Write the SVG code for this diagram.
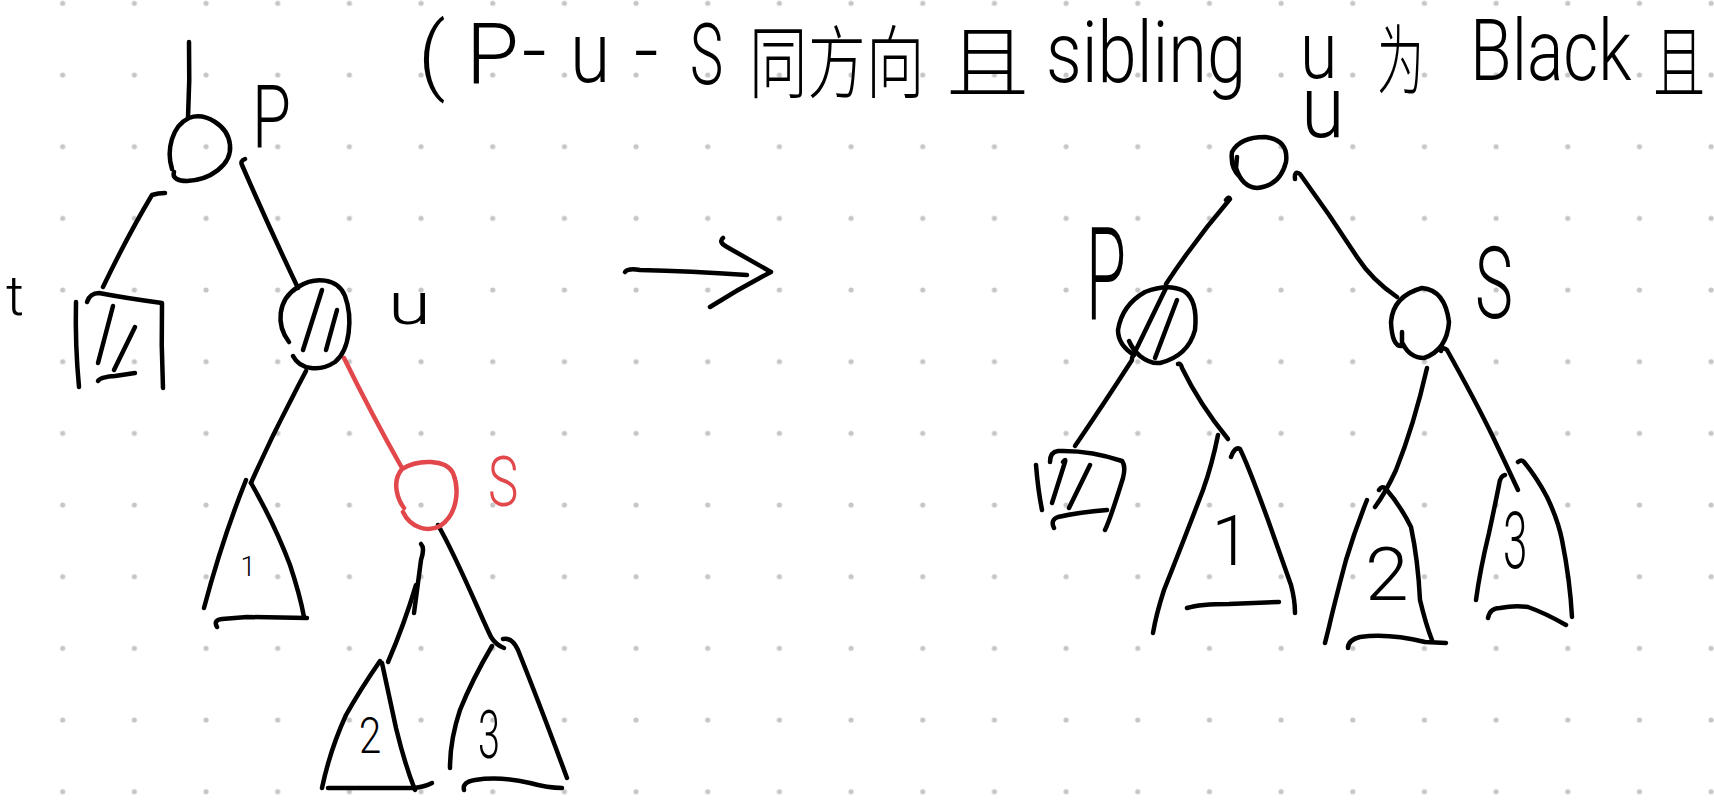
<svg xmlns="http://www.w3.org/2000/svg" width="1714" height="801" viewBox="0 0 1714 801">
<defs>
<pattern id="dots" x="26.87" y="-32.53" width="71.67" height="71.67" patternUnits="userSpaceOnUse">
<circle cx="35.835" cy="35.835" r="2.6" fill="#c6c6c6"/>
</pattern>
<style>
.ink{fill:none;stroke:#000;stroke-width:4.5;stroke-linecap:round;stroke-linejoin:round}
.red{fill:none;stroke:#e2474b;stroke-width:4.5;stroke-linecap:round;stroke-linejoin:round}
.hw{font-family:Roboto,"Liberation Sans",sans-serif;font-weight:300;fill:#000}
.hwr{font-family:Roboto,"Liberation Sans",sans-serif;font-weight:300;fill:#e2474b}
.cjk{font-family:"Noto Sans CJK SC","Noto Sans CJK JP",sans-serif;font-weight:300;fill:#000}
.t86{font-size:86px}
</style>
</defs>
<rect width="1714" height="801" fill="#fff"/>
<rect width="1714" height="801" fill="url(#dots)"/>

<g id="title">
<text class="hw t86" x="418" y="84">(</text>
<text class="hw t86" x="466" y="84">P</text>
<text class="hw t86" x="522" y="80">-</text>
<text class="hw t86" transform="translate(570,82) scale(0.85,1)">u</text>
<text class="hw t86" x="634" y="80">-</text>
<text class="hw t86" transform="translate(690,84) scale(0.65,1)">S</text>
<text class="cjk" font-size="79" transform="translate(749,92) scale(0.74,1)">同方向</text>
<text class="cjk" font-size="79" transform="translate(946,92) scale(1.05,1)">且</text>
<text class="hw t86" transform="translate(1046,82) scale(0.82,1)">sibling</text>
<text class="hw" font-size="80" transform="translate(1300,78) scale(0.85,1)">u</text>
<text class="cjk" font-size="76" transform="translate(1377,88) scale(0.62,1)">为</text>
<text class="hw t86" transform="translate(1470,80) scale(0.79,1)">Black</text>
<text class="cjk" font-size="79" transform="translate(1653,92) scale(0.66,1)">且</text>
</g>

<g id="connectors">
<path class="ink" d="M189,42 Q190,80 188,118"/>
<path class="ink" d="M165,193 Q158,193 152,195 Q128,235 103,287"/>
<path class="ink" d="M245,159 Q240,161 242,165 Q268,225 298,288"/>
<path class="ink" d="M306,371 Q298,386 291,400 Q270,440 251,483"/>
<path class="red" d="M344,358 Q372,415 402,468"/>
<path class="ink" d="M438,525 C458,560 478,610 491,637 Q496,645 504,648"/>
<path class="ink" d="M421,544 Q425,548 421,560 L414,613"/>
<path class="ink" d="M416,585 Q404,625 388,662"/>
<path class="ink" d="M1226,200 Q1229,196 1230,199 Q1195,240 1166,284"/>
<path class="ink" d="M1295,179 Q1294,170 1300,174 Q1330,215 1357,257 Q1372,280 1397,297"/>
<path class="ink" d="M1132,360 Q1105,402 1075,446"/>
<path class="ink" d="M1178,364 Q1181,363 1182,368 Q1200,405 1228,439"/>
<path class="ink" d="M1427,368 Q1414,425 1396,470 Q1386,492 1375,507"/>
<path class="ink" d="M1441,351 Q1442,346 1447,350 Q1475,400 1493,437 Q1505,462 1518,490"/>
</g>

<g id="arrow">
<path class="ink" d="M625,272 Q628,268 640,270 Q690,271 747,275"/>
<path class="ink" d="M723,238 Q718,242 727,247 L771,272 Q740,288 710,307"/>
</g>

<g id="left-P">
<path class="ink" d="M172,169 C166,150 172,126 189,118 C205,112 228,125 230,145 C232,165 210,180 187,181 C178,181 172,178 174,172"/>
<text class="hw" font-size="88" transform="translate(252,147) scale(0.72,1)">P</text>
</g>

<g id="left-mark">
<text class="hw" font-size="56" x="6" y="315">t</text>
</g>

<g id="left-nil">
<path class="ink" d="M76,302 Q75,345 79,387"/>
<path class="ink" d="M87,302 Q90,293 99,293 Q125,298 162,303 Q161,345 163,388"/>
<path class="ink" d="M113,306 L98,363"/>
<path class="ink" d="M135,327 L114,370"/>
<path class="ink" d="M98,381 Q100,377 115,376 L135,373"/>
</g>

<g id="left-U">
<path class="ink" d="M289,342 C276,325 277,300 298,287 C315,276 338,278 345,296 C353,318 350,350 335,362 C320,372 300,370 293,356"/>
<path class="ink" d="M322,290 L303,350"/>
<path class="ink" d="M337,310 L326,350"/>
<text class="hw" font-size="60" transform="translate(388,324) scale(1.3,1)">u</text>
</g>

<g id="left-S">
<path class="red" d="M404,508 C398,500 391,482 402,469 C418,459 446,459 453,473 C460,490 457,515 440,526 C427,533 410,527 403,512"/>
<text class="hwr" font-size="71" transform="translate(488,506) scale(0.72,1)">S</text>
</g>

<g id="left-T1">
<path class="ink" d="M246,480 Q222,540 204,608"/>
<path class="ink" d="M251,483 Q275,525 290,565 Q300,595 304,617"/>
<path class="ink" d="M217,627 Q213,620 222,619 L247,617 L307,618"/>
<text class="hw" x="248" y="576" font-size="27" text-anchor="middle">1</text>
</g>

<g id="left-T2">
<path class="ink" d="M380,661 Q360,690 346,715 Q330,750 322,788"/>
<path class="ink" d="M382,663 Q390,700 396,728 Q405,765 415,790"/>
<path class="ink" d="M328,788 L414,788 Q424,787 432,783"/>
<text class="hw" font-size="50" transform="translate(359,753) scale(0.8,1)">2</text>
</g>

<g id="left-T3">
<path class="ink" d="M492,646 Q472,680 460,710 Q450,740 450,768"/>
<path class="ink" d="M503,639 Q512,637 518,650 Q540,705 567,778"/>
<path class="ink" d="M464,790 Q462,782 475,780 Q500,776 530,783 Q548,788 562,788"/>
<text class="hw" font-size="66" transform="translate(478,758) scale(0.6,1)">3</text>
</g>

<g id="right-U">
<path class="ink" d="M1237,157 L1236,168 Q1242,187 1257,188 Q1280,186 1286,162 Q1289,140 1265,137 Q1240,137 1232,152 Q1230,168 1240,177"/>
<text class="hw" font-size="88" transform="translate(1301,137) scale(0.9,1)">u</text>
</g>

<g id="right-P">
<path class="ink" d="M1129,341 Q1133,350 1140,356 Q1150,364 1160,363 Q1188,356 1195,330 Q1198,300 1184,291 Q1168,283 1145,292 Q1122,305 1118,330 Q1118,345 1134,355"/>
<path class="ink" d="M1166,288 L1132,358"/>
<path class="ink" d="M1177,300 L1155,358"/>
<text class="hw" font-size="130" transform="translate(1086,320) scale(0.5,1)">P</text>
</g>

<g id="right-S">
<path class="ink" d="M1402,332 L1402,346 Q1392,347 1391,322 Q1393,296 1422,288 Q1445,290 1449,322 Q1447,350 1424,358 Q1410,358 1403,344"/>
<text class="hw" font-size="100" transform="translate(1475,318) scale(0.64,1)">S</text>
</g>

<g id="right-nil">
<path class="ink" d="M1050,462 Q1050,452 1058,451 Q1090,450 1122,461 Q1126,466 1123,478 Q1110,520 1105,530"/>
<path class="ink" d="M1036,465 Q1038,490 1042,510"/>
<path class="ink" d="M1063,462 Q1066,458 1065,462 L1052,503"/>
<path class="ink" d="M1090,465 L1069,508"/>
<path class="ink" d="M1054,528 Q1050,520 1058,517 Q1080,512 1107,510"/>
</g>

<g id="right-T1">
<path class="ink" d="M1218,435 Q1212,465 1203,490 Q1180,550 1164,590 Q1156,615 1153,633"/>
<path class="ink" d="M1231,457 Q1235,446 1240,449 Q1248,465 1268,520 Q1285,568 1291,585 Q1295,600 1295,613"/>
<path class="ink" d="M1187,608 Q1200,604 1229,604 L1279,602"/>
<text class="hw" x="1231" y="565" font-size="70" text-anchor="middle">1</text>
</g>

<g id="right-T2">
<path class="ink" d="M1367,500 Q1355,530 1346,560 Q1334,605 1329,627 L1325,643"/>
<path class="ink" d="M1379,490 Q1382,485 1386,489 Q1400,505 1411,527 Q1418,560 1420,600 Q1426,625 1432,640"/>
<path class="ink" d="M1348,648 Q1348,640 1360,637 Q1388,633 1425,642 L1446,643"/>
<text class="hw" font-size="75" transform="translate(1365,600) scale(1.05,1)">2</text>
</g>

<g id="right-T3">
<path class="ink" d="M1505,475 Q1500,476 1499,485 Q1494,510 1489,533 Q1480,570 1476,600"/>
<path class="ink" d="M1518,462 Q1522,459 1524,462 Q1537,478 1547,497 Q1558,520 1562,540 Q1570,580 1572,617"/>
<path class="ink" d="M1488,618 Q1490,608 1500,608 Q1515,605 1528,607 Q1545,613 1566,625"/>
<text class="hw" font-size="80" transform="translate(1503,568) scale(0.55,1)">3</text>
</g>
</svg>
